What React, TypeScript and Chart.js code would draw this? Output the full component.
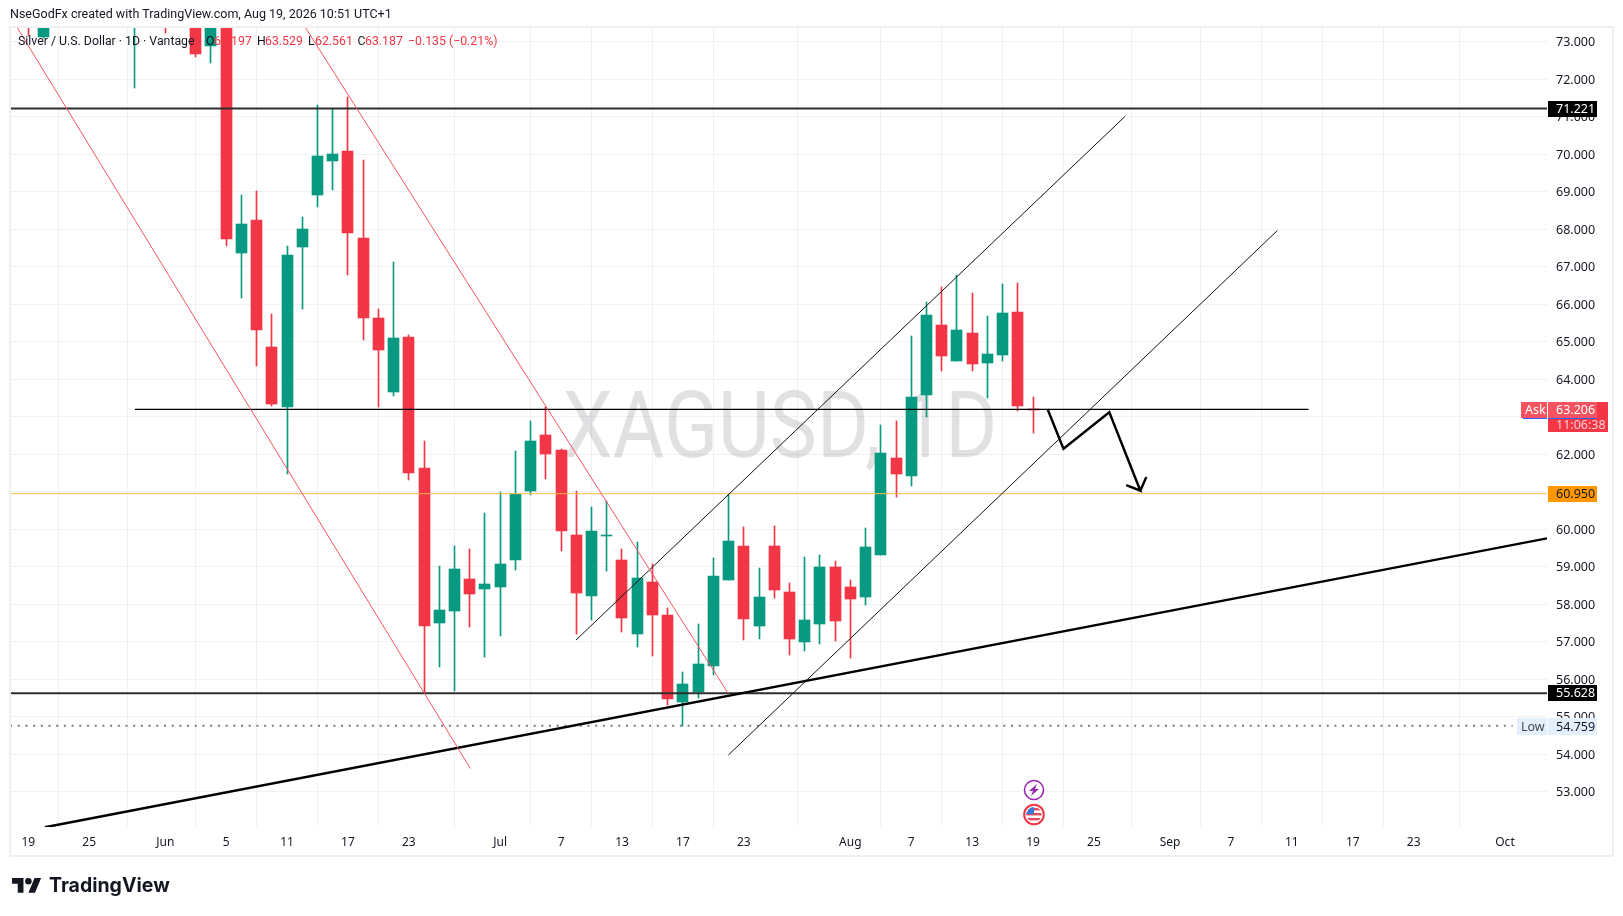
import React, { useEffect, useRef } from "react";
import { Chart, registerables } from "chart.js";

Chart.register(...registerables);

// Bar 0 is 19 May; one bar per weekday. null = candle wholly above the visible price range.
const opens = [78, 73.136, null, null, null, null, null, 73.6, null, 75, null, 74.5, 72.888, 76, 67.368, 68.248, 64.862, 63.262, 67.528, 68.915, 69.822, 70.088, 67.768, 65.635, 63.662, 65.128, 61.635, 57.502, 57.822, 58.675, 58.408, 58.462, 59.182, 61.022, 62.515, 62.115, 59.848, 58.222, 59.835, 59.182, 57.208, 58.595, 57.715, 55.395, 55.662, 56.355, 58.648, 59.555, 57.422, 59.555, 58.328, 56.995, 57.475, 58.995, 58.462, 58.195, 59.326, 61.902, 61.422, 63.582, 65.448, 64.488, 65.235, 64.435, 64.648, 65.795, 63.197];
const highs = [78.5, 75.5, null, null, null, null, null, 75, null, 76, null, 75, 75.5, 76.5, 68.915, 69.022, 65.742, 67.555, 68.328, 71.315, 71.208, 71.536, 69.848, 65.875, 67.128, 65.182, 62.355, 59.022, 59.555, 59.475, 60.435, 60.995, 62.088, 62.888, 63.262, 62.142, 61.022, 60.595, 60.755, 59.475, 59.662, 59.075, 57.902, 56.195, 57.475, 59.235, 60.942, 60.062, 58.968, 60.088, 58.568, 59.262, 59.315, 59.155, 58.648, 60.035, 62.782, 62.888, 65.155, 66.062, 66.462, 66.782, 66.302, 65.688, 66.542, 66.568, 63.529];
const lows = [73.155, 73.1, null, null, null, null, null, 71.776, null, 73.235, null, 72.603, 72.443, 67.555, 66.176, 64.355, 63.288, 61.475, 65.875, 68.603, 69.048, 66.782, 65.048, 63.262, 63.555, 61.315, 55.635, 56.328, 55.688, 57.395, 56.595, 57.155, 58.915, 60.915, 61.342, 59.422, 57.208, 57.582, 58.888, 57.262, 56.862, 56.622, 55.315, 54.759, 55.502, 56.115, 58.648, 57.048, 57.075, 58.168, 56.648, 56.755, 56.942, 57.022, 56.568, 57.982, 59.326, 60.862, 61.155, 62.995, 64.222, 64.488, 64.222, 63.502, 64.488, 63.155, 62.561];
const closes = [75, 75, null, null, null, null, null, 74.5, null, 74, null, 72.683, 75, 67.75, 68.142, 65.323, 63.35, 67.315, 68.008, 69.955, 70.008, 67.902, 65.643, 64.79, 65.102, 61.502, 57.422, 57.848, 58.942, 58.275, 58.542, 59.075, 60.942, 62.355, 62.008, 59.955, 58.302, 59.955, 59.848, 57.635, 58.702, 57.715, 55.475, 55.875, 56.408, 58.755, 59.688, 57.608, 58.195, 58.382, 57.075, 57.582, 58.995, 57.555, 58.142, 59.528, 62.035, 61.475, 63.528, 65.715, 64.622, 65.315, 64.408, 64.675, 65.768, 63.288, 63.187];

const timeTickBars = [0, 4, 9, 13, 17, 21, 25, 31, 35, 39, 43, 47, 54, 58, 62, 66, 70, 75, 79, 83, 87, 91, 97];
const timeTickLabels = ["19", "25", "Jun", "5", "11", "17", "23", "Jul", "7", "13", "17", "23", "Aug", "7", "13", "19", "25", "Sep", "7", "11", "17", "23", "Oct"];

const PRICE_MIN = 52.062;
const PRICE_MAX = 73.395;
const BAR_MIN = -1.2;
const BAR_MAX = 99.76;

const upperLevel = 71.221;
const lowerLevel = 55.628;
const midLevel = 63.2;
const orangeLevel = 60.95;
const lowLevel = 54.759;

const redChannelA: [number, number][] = [[-1.2, 73.694], [29.04, 53.622]];
const redChannelB: [number, number][] = [[18.17, 73.403], [45.97, 55.627]];
const blackChannelA: [number, number][] = [[35.98, 57.048], [72.05, 71.014]];
const blackChannelB: [number, number][] = [[45.99, 53.982], [82.05, 67.968]];
const longTrend: [number, number][] = [[1.095, 52.054], [99.76, 59.76]];
const midSegment: [number, number][] = [[7, midLevel], [84.1, midLevel]];
const arrowPath: [number, number][] = [[66.95, 63.21], [68, 62.15], [71.01, 63.12], [73.05, 61.03], [72.12, 61.18], [73.05, 61.03], [73.44, 61.395]];

const UP = "#089981";
const DOWN = "#f23645";
const FONT = '"Noto Sans", sans-serif';
const TEXT_FONT = 'Roboto, "Noto Sans", sans-serif';

const lineDs = (pts: [number, number][], color: string, width: number, dash: number[] = []) => ({
  type: "line" as const,
  data: pts.map(([x, y]) => ({ x, y })),
  borderColor: color,
  borderWidth: width,
  borderDash: dash,
  pointRadius: 0,
  tension: 0,
  fill: false,
  order: 1,
  borderJoinStyle: "miter" as const,
});

const candleIdx = opens.map((_, i) => i).filter((i) => opens[i] !== null);
const colours = candleIdx.map((i) => ((closes[i] as number) >= (opens[i] as number) ? UP : DOWN));

const snapBars = {
  id: "snapBars",
  afterDatasetsUpdate(chart: any) {
    [0, 1].forEach((d) => {
      chart.getDatasetMeta(d).data.forEach((el: any) => {
        el.x = Math.floor(el.x) + 0.5;
        const top = Math.round(el.y);
        let bot = Math.round(el.base);
        if (bot === top) bot = top + 1;
        el.y = top;
        el.base = bot;
        el.height = bot - top;
      });
    });
  },
};

const underlay = {
  id: "underlay",
  beforeDatasetsDraw(chart: any) {
    const c = chart.ctx;
    const a = chart.chartArea;
    c.save();
    c.beginPath();
    c.rect(a.left, a.top, a.right - a.left, a.bottom - a.top);
    c.clip();
    c.fillStyle = "rgba(42,46,57,0.14)";
    c.font = `400 93px ${TEXT_FONT}`;
    c.textAlign = "center";
    c.textBaseline = "middle";
    c.translate(780, 434);
    c.scale(0.855, 1);
    c.fillText("XAGUSD, 1D", 0, 0);
    c.restore();
  },
};

const tag = (c: any, x: number, y: number, w: number, h: number, bg: string, text: string, fg: string, tx?: number) => {
  c.fillStyle = bg;
  c.fillRect(x, y, w, h);
  c.fillStyle = fg;
  c.fillText(text, tx ?? x + 8, y + h / 2 + 0.5);
};

const overlay = {
  id: "overlay",
  afterDraw(chart: any) {
    const c = chart.ctx;
    const ys = chart.scales.y;
    c.save();
    // outer frame
    c.strokeStyle = "#f0f0f0";
    c.lineWidth = 2;
    c.strokeRect(10, 27, 1603, 829);

    // header
    c.fillStyle = "#131722";
    c.font = `400 12.5px ${TEXT_FONT}`;
    c.textBaseline = "middle";
    c.textAlign = "left";
    c.fillText("NseGodFx created with TradingView.com, Aug 19, 2026 10:51 UTC+1", 10, 15);

    // symbol legend: sits on top of the candles, red on red disappears as in the source
    c.font = `400 12.3px ${TEXT_FONT}`;
    const ly = 42;
    c.fillText("Silver / U.S. Dollar · 1D · Vantage", 18, ly);
    [["O", 206], ["H", 257], ["L", 308], ["C", 357.5]].forEach(([t, x]) => c.fillText(t as string, x as number, ly));
    c.fillStyle = "#f23645";
    [["63.197", 214], ["63.529", 265], ["62.561", 315], ["63.187", 365], ["−0.135 (−0.21%)", 408]].forEach(([t, x]) =>
      c.fillText(t as string, x as number, ly)
    );

    // price tags
    c.font = `400 12.5px ${FONT}`;
    const X = 1548;
    const W = 49;
    const cy = (p: number) => Math.round(ys.getPixelForValue(p));
    tag(c, X, cy(upperLevel) - 8, W, 16, "#000000", "71.221", "#ffffff");
    tag(c, X, cy(orangeLevel) - 8, W, 16, "#ff9800", "60.950", "#131722");
    tag(c, X, cy(lowerLevel) - 8, W, 16, "#000000", "55.628", "#ffffff");
    // countdown block and Ask
    tag(c, X, 402, 60, 30, DOWN, "", "#fff");
    c.fillStyle = "rgba(255,255,255,0.75)";
    c.fillText("11:06:38", X + 8, 425.5);
    tag(c, X, 402, W, 16, "#f7525f", "63.206", "#ffffff");
    tag(c, 1521, 402, 26, 16, "#f7525f", "Ask", "#ffffff", 1525);
    c.fillStyle = "#2962ff";
    c.fillRect(1523, 418, 24, 1);
    c.fillRect(X, 418, W, 1);
    // Low tag
    tag(c, 1517, 718, 30, 17, "#e3effd", "Low", "#434651", 1521);
    tag(c, X, 718, W, 17, "#e3effd", "54.759", "#131722");

    // purple lightning marker
    c.strokeStyle = "#9c27b0";
    c.lineWidth = 1.6;
    c.beginPath();
    c.arc(1034, 790, 9.5, 0, Math.PI * 2);
    c.fillStyle = "#ffffff";
    c.fill();
    c.stroke();
    c.fillStyle = "#9c27b0";
    c.beginPath();
    c.moveTo(1037, 784);
    c.lineTo(1029, 791);
    c.lineTo(1033, 791);
    c.lineTo(1031, 796);
    c.lineTo(1039, 789);
    c.lineTo(1035, 789);
    c.closePath();
    c.fill();

    // US flag marker
    c.strokeStyle = "#f23645";
    c.lineWidth = 2;
    c.beginPath();
    c.arc(1034, 814.5, 9.8, 0, Math.PI * 2);
    c.fillStyle = "#ffffff";
    c.fill();
    c.stroke();
    c.save();
    c.beginPath();
    c.arc(1034, 814.5, 7.6, 0, Math.PI * 2);
    c.clip();
    c.fillStyle = "#ffffff";
    c.fillRect(1026, 806, 16, 17);
    c.fillStyle = "#e5485a";
    c.fillRect(1026, 813, 16, 2.4);
    c.fillRect(1026, 818, 16, 2.4);
    c.fillRect(1034, 808, 8, 2.4);
    c.fillStyle = "#3d78d8";
    c.fillRect(1026, 806, 8, 8);
    c.restore();

    // footer logo
    c.fillStyle = "#131722";
    c.save();
    c.translate(12, 874.7);
    c.scale(0.82, 0.82);
    c.fill(new Path2D("M14 22H7V11H0V4h14v18zM28 22h-8l7.5-18h8L28 22z"));
    c.beginPath();
    c.arc(20, 8, 4, 0, Math.PI * 2);
    c.fill();
    c.restore();
    c.font = `700 19.5px Inter, ${FONT}`;
    c.textBaseline = "alphabetic";
    c.fillText("TradingView", 49, 892);
    c.restore();
  },
};

export default function App() {
  const ref = useRef<HTMLCanvasElement>(null);
  useEffect(() => {
    document.body.style.margin = "0";
    const chart = new Chart(ref.current as HTMLCanvasElement, {
      type: "bar",
      data: {
        datasets: [
          {
            data: candleIdx.map((i) => ({ x: i, y: [lows[i], highs[i]] })),
            backgroundColor: colours,
            barThickness: 1,
            grouped: false,
            order: 11,
          },
          {
            data: candleIdx.map((i) => ({ x: i, y: [opens[i], closes[i]] })),
            backgroundColor: colours,
            barThickness: 11,
            grouped: false,
            order: 10,
          },
          lineDs(redChannelA, "#f7525f", 1),
          lineDs(redChannelB, "#f7525f", 1),
          lineDs(blackChannelA, "#111111", 1),
          lineDs(blackChannelB, "#111111", 1),
          lineDs(longTrend, "#000000", 2.4),
          lineDs(midSegment, "#000000", 1.3),
          lineDs(arrowPath, "#000000", 2.4),
          lineDs([[BAR_MIN, upperLevel], [BAR_MAX, upperLevel]], "#2e2e2e", 2),
          lineDs([[BAR_MIN, lowerLevel], [BAR_MAX, lowerLevel]], "#2e2e2e", 2),
          lineDs([[BAR_MIN, orangeLevel], [BAR_MAX, orangeLevel]], "#ffb74d", 1),
          lineDs([[BAR_MIN, lowLevel], [97.5, lowLevel]], "#787b86", 2, [2, 5.7]),
        ] as any,
      },
      options: {
        animation: false,
        responsive: false,
        layout: { padding: { top: 27, left: 10, right: 0, bottom: 0 } },
        plugins: { legend: { display: false }, tooltip: { enabled: false } },
        scales: {
          x: {
            type: "linear",
            min: BAR_MIN,
            max: BAR_MAX,
            offset: false,
            border: { display: false },
            grid: { color: "#f1f1f2", lineWidth: 1, drawTicks: false },
            afterBuildTicks(s: any) {
              s.ticks = timeTickBars.map((value) => ({ value }));
            },
            afterFit(s: any) {
              s.height = 89;
            },
            ticks: {
              autoSkip: false,
              maxRotation: 0,
              minRotation: 0,
              padding: 8,
              color: "#131722",
              font: { family: FONT, size: 12 },
              callback: (v: any) => {
                const k = timeTickBars.indexOf(Number(v));
                return k >= 0 ? timeTickLabels[k] : "";
              },
            },
          },
          y: {
            type: "linear",
            position: "right",
            min: PRICE_MIN,
            max: PRICE_MAX,
            border: { display: false },
            grid: { color: "#f1f1f2", lineWidth: 1, drawTicks: false },
            afterFit(s: any) {
              s.width = 76;
            },
            ticks: {
              stepSize: 1,
              includeBounds: false,
              padding: 9,
              labelOffset: 1,
              color: "#131722",
              font: { family: FONT, size: 12.5 },
              callback: (v: any) => Number(v).toFixed(3),
            },
          },
        },
      } as any,
      plugins: [snapBars, underlay, overlay],
    });
    return () => chart.destroy();
  }, []);
  return (
    <div style={{ position: "absolute", left: 0, top: 0, width: 1623, height: 916, background: "#ffffff" }}>
      <canvas ref={ref} width={1623} height={916} style={{ display: "block" }} />
    </div>
  );
}
